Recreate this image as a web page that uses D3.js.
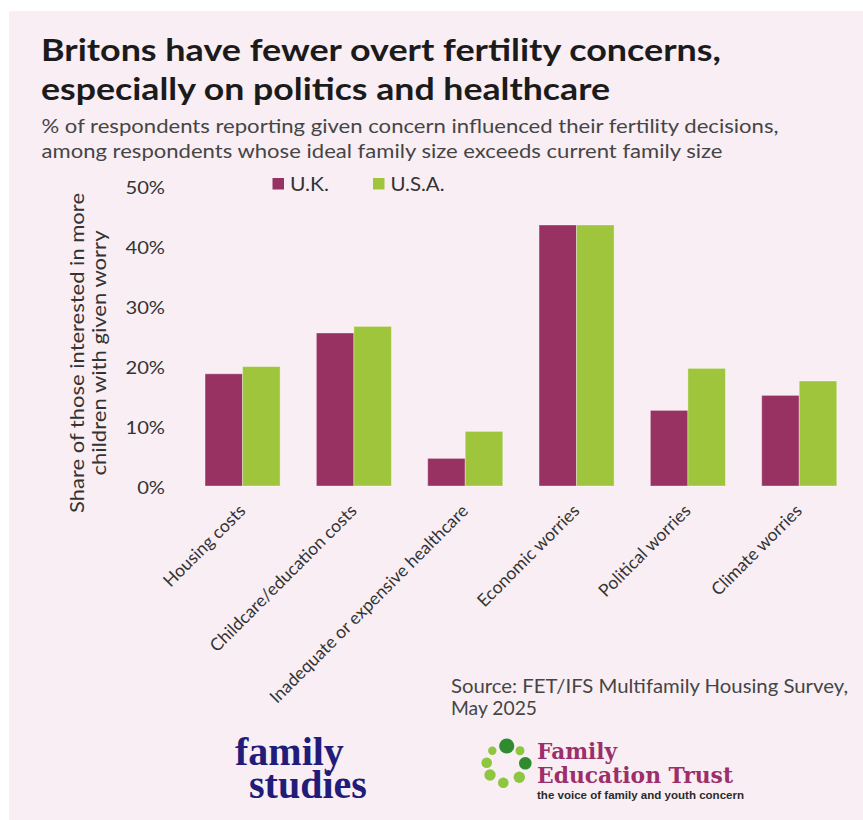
<!DOCTYPE html>
<html>
<head>
<meta charset="utf-8">
<script src="https://cdn.jsdelivr.net/npm/d3@7"></script>
<style>
  html, body { margin: 0; padding: 0; background: #ffffff; }
  svg { display: block; }
</style>
</head>
<body>
<svg id="chart" width="863" height="820" font-family="Lato, 'Open Sans', sans-serif"></svg>
<script>
// Concerns asked about in the survey
const categories = [
  "Housing costs",
  "Childcare/education costs",
  "Inadequate or expensive healthcare",
  "Economic worries",
  "Political worries",
  "Climate worries"
];
const seriesNames = ["U.K.", "U.S.A."];
// Share of respondents (%) citing each concern
const ukValues  = [18.7, 25.5, 4.6, 43.5, 12.6, 15.1];
const usaValues = [19.9, 26.6, 9.1, 43.5, 19.6, 17.5];
const yTicks = [0, 10, 20, 30, 40, 50];

const titleLines = [
  "Britons have fewer overt fertility concerns,",
  "especially on politics and healthcare"
];
const subtitleLines = [
  "% of respondents reporting given concern influenced their fertility decisions,",
  "among respondents whose ideal family size exceeds current family size"
];
const yTitleLines = ["Share of those interested in more", "children with given worry"];
const sourceLines = ["Source: FET/IFS Multifamily Housing Survey,", "May 2025"];

const colors = { "U.K.": "#983262", "U.S.A.": "#9ec53c" };

const svg = d3.select("#chart");

// the typeface is set a little wider than Lato's own proportions
function widen(sel, k) {
  sel.each(function () {
    const w = this.getComputedTextLength();
    d3.select(this).attr("textLength", w * k).attr("lengthAdjust", "spacingAndGlyphs");
  });
  return sel;
}
function fit(sel, widths) {
  sel.each(function (d, i) {
    d3.select(this).attr("textLength", widths[i]).attr("lengthAdjust", "spacingAndGlyphs");
  });
  return sel;
}

// pink card
svg.append("rect")
  .attr("x", 9).attr("y", 11).attr("width", 854).attr("height", 809)
  .attr("fill", "#f9eef4");

// title and subtitle
fit(svg.append("g").selectAll("text").data(titleLines).join("text")
  .attr("x", 41).attr("y", (d, i) => 61 + i * 39)
  .attr("font-size", 31).attr("font-weight", 700).attr("fill", "#1b1b1b")
  .text(d => d), [680, 569]);

fit(svg.append("g").selectAll("text").data(subtitleLines).join("text")
  .attr("x", 41.5).attr("y", (d, i) => 133 + i * 25)
  .attr("font-size", 19.5).attr("fill", "#454545")
  .text(d => d), [737, 681]);

// scales
const y = d3.scaleLinear().domain([0, 50]).range([486, 186]);
const x = d3.scaleBand().domain(categories)
  .range([186.9, 854.9]).paddingInner(0.326).paddingOuter(0.163);
const xs = d3.scaleBand().domain(seriesNames).range([0, x.bandwidth()]);

// y axis labels
const yAxis = svg.append("g")
  .attr("transform", "translate(165,1.5)")
  .call(d3.axisLeft(y).tickValues(yTicks).tickSize(0).tickPadding(0)
    .tickFormat(d => d + "%"));
yAxis.select(".domain").remove();
yAxis.attr("font-family", "Lato, sans-serif");
widen(yAxis.selectAll("text").attr("font-size", 18).attr("fill", "#333"), 1.12);

// y axis title
const yTitle = svg.append("g").attr("transform", "translate(84,353) rotate(-90)");
fit(yTitle.selectAll("text").data(yTitleLines).join("text")
  .attr("x", 0).attr("y", (d, i) => i * 22)
  .attr("text-anchor", "middle")
  .attr("font-size", 19).attr("fill", "#333")
  .text(d => d), [320, 245]);

// bars
const rows = categories.map((c, i) => ({ cat: c, vals: [
  { key: "U.K.", v: ukValues[i] },
  { key: "U.S.A.", v: usaValues[i] }
]}));

const groups = svg.append("g").selectAll("g").data(rows).join("g")
  .attr("transform", d => `translate(${x(d.cat)},0)`);
groups.selectAll("rect").data(d => d.vals).join("rect")
  .attr("x", d => xs(d.key))
  .attr("y", d => y(d.v))
  .attr("width", xs.bandwidth())
  .attr("height", d => y(0) - y(d.v))
  .attr("fill", d => colors[d.key])
  .attr("stroke", "rgba(255,255,255,0.35)")
  .attr("stroke-width", 1);

// category labels, rotated
svg.append("g").selectAll("text").data(categories).join("text")
  .attr("transform", d => `translate(${x(d) + x.bandwidth() / 2 + 4},512) rotate(-45)`)
  .attr("text-anchor", "end")
  .attr("font-size", 17.5).attr("fill", "#333")
  .text(d => d);

// legend
const legend = svg.append("g");
const legendX = [272.5, 373];
const legendW = [39, 54];
seriesNames.forEach((s, i) => {
  legend.append("rect")
    .attr("x", legendX[i]).attr("y", 178)
    .attr("width", 11.5).attr("height", 11.5)
    .attr("fill", colors[s]);
  legend.append("text")
    .attr("x", legendX[i] + 17.5).attr("y", 190.5)
    .attr("font-size", 19).attr("fill", "#333")
    .attr("textLength", legendW[i]).attr("lengthAdjust", "spacingAndGlyphs")
    .text(s);
});

// source note
fit(svg.append("g").selectAll("text").data(sourceLines).join("text")
  .attr("x", 451).attr("y", (d, i) => 693 + i * 22)
  .attr("font-size", 19).attr("fill", "#454545")
  .text(d => d), [397, 86]);

// family studies wordmark, set tight as a single two-line block
const fs = svg.append("text")
  .attr("font-family", "'Liberation Serif', 'Times New Roman', serif")
  .attr("font-weight", 700).attr("font-size", 40).attr("fill", "#211c7a");
fs.append("tspan").attr("x", 235).attr("y", 765).text("family");
fs.append("tspan").attr("x", 249).attr("y", 797.5).text("studies");

// Family Education Trust mark: ring of dots
const dots = [
  { cx: 506.7, cy: 746,   r: 7.6, c: "#2e8b2e" },
  { cx: 520,   cy: 750.7, r: 4.5, c: "#8dc63f" },
  { cx: 525.3, cy: 763.3, r: 6.3, c: "#2e8b2e" },
  { cx: 519.3, cy: 777.3, r: 5.7, c: "#8dc63f" },
  { cx: 503.3, cy: 782.7, r: 5.3, c: "#8dc63f" },
  { cx: 490,   cy: 775,   r: 5.7, c: "#8dc63f" },
  { cx: 486.7, cy: 762.7, r: 5.3, c: "#8dc63f" },
  { cx: 492.3, cy: 750.7, r: 4.2, c: "#8dc63f" }
];
svg.append("g").selectAll("circle").data(dots).join("circle")
  .attr("cx", d => d.cx).attr("cy", d => d.cy).attr("r", d => d.r)
  .attr("fill", d => d.c);

const fet = svg.append("g")
  .attr("font-family", "'DejaVu Serif', serif")
  .attr("fill", "#9c2f69");
fet.append("text").attr("x", 537).attr("y", 759.3).attr("font-size", 22)
  .attr("font-weight", 700).attr("textLength", 80).attr("lengthAdjust", "spacingAndGlyphs")
  .text("Family");
fet.append("text").attr("x", 537).attr("y", 782.7).attr("font-size", 22)
  .attr("font-weight", 700).attr("textLength", 196).attr("lengthAdjust", "spacingAndGlyphs")
  .text("Education Trust");
svg.append("text").attr("x", 537).attr("y", 799)
  .attr("font-family", "'Liberation Sans', Arial, sans-serif")
  .attr("font-weight", 700).attr("font-size", 10.5).attr("fill", "#2b2b2b")
  .attr("textLength", 207).attr("lengthAdjust", "spacingAndGlyphs")
  .text("the voice of family and youth concern");
</script>
</body>
</html>
